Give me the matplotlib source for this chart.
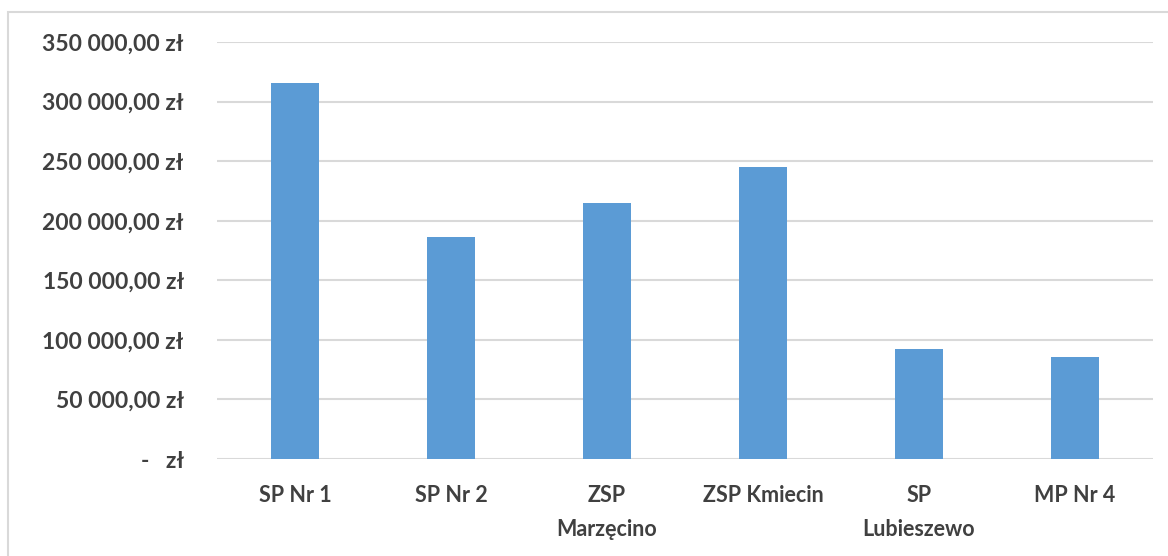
import matplotlib
matplotlib.use("Agg")
import matplotlib.pyplot as plt
from matplotlib.patches import Rectangle

# ── Data ──────────────────────────────────────────────────────────────────────
schools = ["SP Nr 1", "SP Nr 2", "ZSP\nMarzęcino", "ZSP Kmiecin",
           "SP\nLubieszewo", "MP Nr 4"]
amounts = [316000, 186500, 214500, 244700, 92000, 85800]
y_ticks = [0, 50000, 100000, 150000, 200000, 250000, 300000, 350000]
y_labels = ["-   zł", "50 000,00 zł", "100 000,00 zł", "150 000,00 zł",
            "200 000,00 zł", "250 000,00 zł", "300 000,00 zł", "350 000,00 zł"]

BAR = "#5B9BD5"
GRID = "#D9D9D9"
TEXT = "#404040"

plt.rcParams["font.family"] = ["Lato", "DejaVu Sans"]

fig = plt.figure(figsize=(11.68, 5.56), dpi=100)
W, H = 1168, 556
ax = fig.add_axes([217 / W, 1 - 459 / H, (1153 - 217) / W, (459 - 42) / H])

# outer chart border
fig.patches.append(Rectangle((8 / W, -0.1), 1.2, 1 - 12 / H + 0.1,
                             transform=fig.transFigure, fill=False,
                             edgecolor=GRID, linewidth=1.5))

x = range(len(schools))
ax.bar(x, amounts, width=0.31, color=BAR, zorder=3)

ax.set_xlim(-0.5, len(schools) - 0.5)
ax.set_ylim(0, 350000)
ax.set_yticks(y_ticks)
ax.set_yticklabels(y_labels)
ax.set_xticks(list(x))
ax.set_xticklabels(schools, linespacing=1.75, va="top")

ax.yaxis.grid(True, color=GRID, linewidth=1.5, zorder=0)
ax.set_axisbelow(True)
for s in ax.spines.values():
    s.set_visible(False)
ax.tick_params(axis="both", length=0, colors=TEXT)
ax.tick_params(axis="y", pad=24, labelsize=16.5)
ax.tick_params(axis="x", pad=19, labelsize=15.5)
for lbl in ax.get_xticklabels() + ax.get_yticklabels():
    lbl.set_fontweight("bold")
    lbl.set_color(TEXT)

fig.savefig("out.png", dpi=100)
